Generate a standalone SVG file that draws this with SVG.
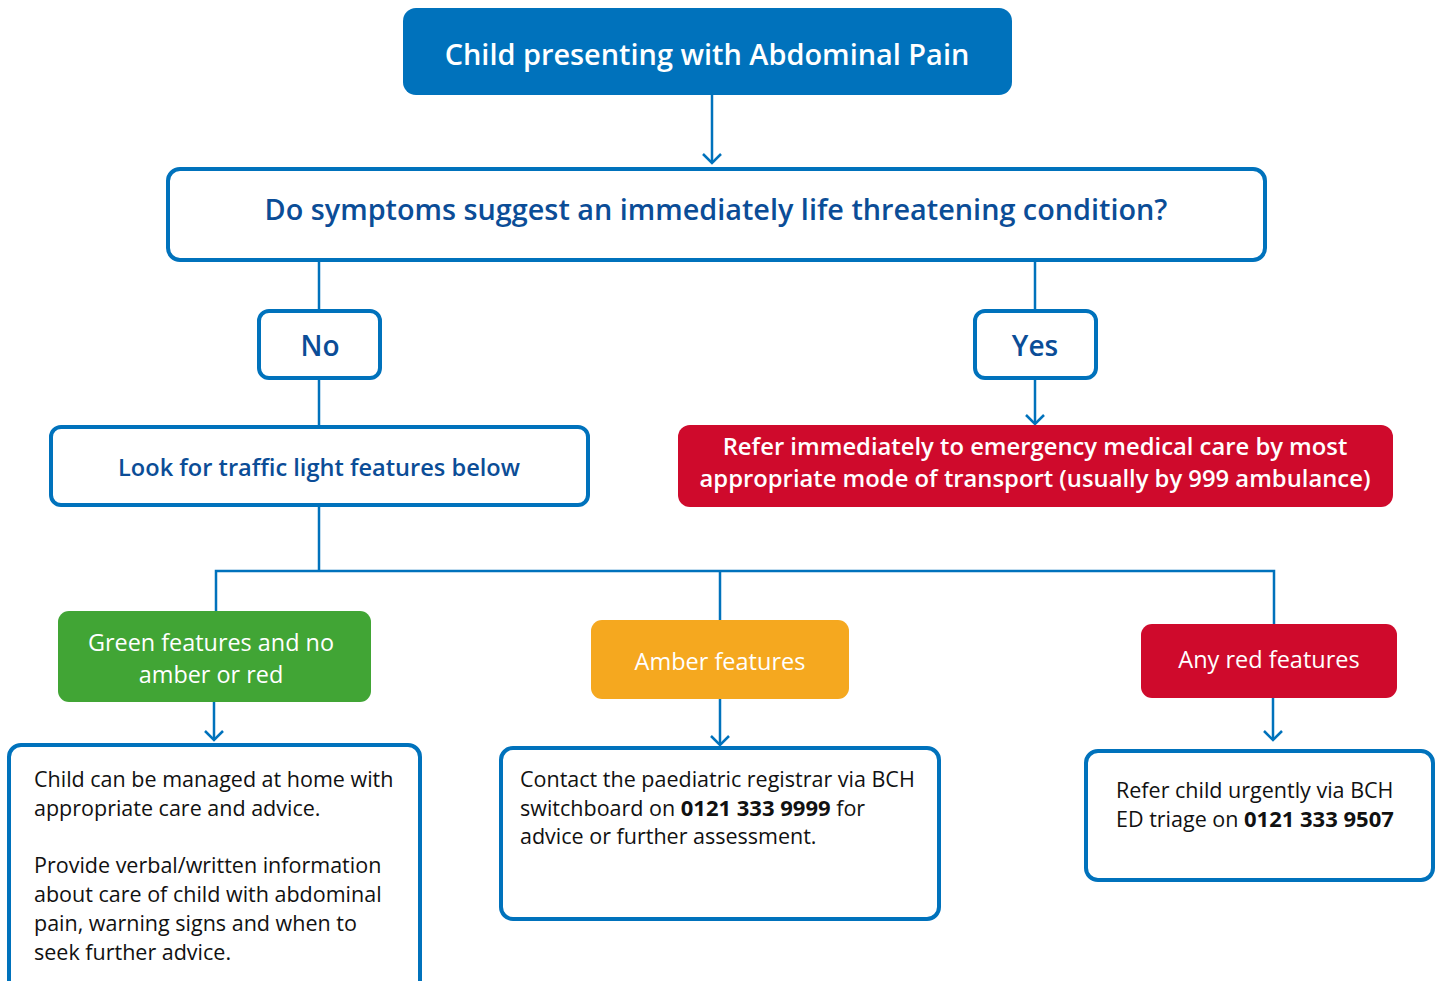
<svg xmlns="http://www.w3.org/2000/svg" width="1438" height="981" viewBox="0 0 1438 981">
<defs>
<style>
.con{fill:none;stroke:#0072BC;stroke-width:2.5}
.head{fill:none;stroke:#0072BC;stroke-width:2.5}
.ob{fill:#fff;stroke:#0072BC;stroke-width:4}
.t{font-family:"Open Sans","Noto Sans",sans-serif}
.hq{fill:#0B4D97;font-weight:600;text-anchor:middle}
.w{fill:#fff;text-anchor:middle}
.body{fill:#111;font-size:21.5px}
.num{font-weight:700;font-size:22px}
</style>
</defs>
<rect width="1438" height="981" fill="#fff"/>
<g id="connectors">
<line class="con" x1="712" y1="95" x2="712" y2="163"/>
<polyline class="head" points="703,154 712,163 721,154"/>
<line class="con" x1="319" y1="261" x2="319" y2="310"/>
<line class="con" x1="319" y1="379" x2="319" y2="427"/>
<line class="con" x1="1035" y1="261" x2="1035" y2="310"/>
<line class="con" x1="1035" y1="379" x2="1035" y2="424"/>
<polyline class="head" points="1026,415 1035,424 1044,415"/>
<polyline class="con" points="319,506 319,571"/>
<polyline class="con" points="216,611 216,571 1274,571 1274,624"/>
<line class="con" x1="720" y1="571" x2="720" y2="621"/>
<line class="con" x1="214" y1="702" x2="214" y2="740"/>
<polyline class="head" points="205,731 214,740 223,731"/>
<line class="con" x1="720" y1="699" x2="720" y2="745"/>
<polyline class="head" points="711,736 720,745 729,736"/>
<line class="con" x1="1273" y1="698" x2="1273" y2="740"/>
<polyline class="head" points="1264,731 1273,740 1282,731"/>
</g>
<g id="start">
<rect x="403" y="8" width="609" height="87" rx="13" fill="#0072BC"/>
<text class="t w" x="707" y="65" font-size="28.9" font-weight="600">Child presenting with Abdominal Pain</text>
</g>
<g id="question">
<rect class="ob" x="168" y="169" width="1097" height="91" rx="12"/>
<text class="t hq" x="716" y="220" font-size="28.8">Do symptoms suggest an immediately life threatening condition?</text>
</g>
<g id="no">
<rect class="ob" x="259" y="311" width="121" height="67" rx="10"/>
<text class="t hq" x="320" y="356" font-size="28">No</text>
</g>
<g id="yes">
<rect class="ob" x="975" y="311" width="121" height="67" rx="10"/>
<text class="t hq" x="1035" y="356" font-size="28">Yes</text>
</g>
<g id="look">
<rect class="ob" x="51" y="427" width="537" height="78" rx="10"/>
<text class="t hq" x="319" y="476" font-size="23.6">Look for traffic light features below</text>
</g>
<g id="emergency">
<rect x="678" y="425" width="715" height="82" rx="12" fill="#CF0A2C"/>
<text class="t w" x="1035" y="455" font-size="23.8" font-weight="600">Refer immediately to emergency medical care by most</text>
<text class="t w" x="1035" y="487" font-size="23.8" font-weight="600">appropriate mode of transport (usually by 999 ambulance)</text>
</g>
<g id="green">
<rect x="58" y="611" width="313" height="91" rx="11" fill="#41A535"/>
<text class="t w" x="211" y="651" font-size="23.4">Green features and no</text>
<text class="t w" x="211" y="683" font-size="23.4">amber or red</text>
</g>
<g id="amber">
<rect x="591" y="620" width="258" height="79" rx="11" fill="#F5A81F"/>
<text class="t w" x="720" y="670" font-size="23.5">Amber features</text>
</g>
<g id="red">
<rect x="1141" y="624" width="256" height="74" rx="11" fill="#CF0A2C"/>
<text class="t w" x="1269" y="668" font-size="23.5">Any red features</text>
</g>
<g id="green-action">
<rect class="ob" x="9" y="745" width="411" height="250" rx="12"/>
<text class="t body" x="34" y="787">Child can be managed at home with</text>
<text class="t body" x="34" y="816">appropriate care and advice.</text>
<text class="t body" x="34" y="873">Provide verbal/written information</text>
<text class="t body" x="34" y="902">about care of child with abdominal</text>
<text class="t body" x="34" y="931">pain, warning signs and when to</text>
<text class="t body" x="34" y="960">seek further advice.</text>
</g>
<g id="amber-action">
<rect class="ob" x="501" y="748" width="438" height="171" rx="12"/>
<text class="t body" x="520" y="787">Contact the paediatric registrar via BCH</text>
<text class="t body" x="520" y="816">switchboard on <tspan class="num">0121 333 9999</tspan> for</text>
<text class="t body" x="520" y="844">advice or further assessment.</text>
</g>
<g id="red-action">
<rect class="ob" x="1086" y="751" width="347" height="129" rx="12"/>
<text class="t body" x="1116" y="798">Refer child urgently via BCH</text>
<text class="t body" x="1116" y="827">ED triage on <tspan class="num">0121 333 9507</tspan></text>
</g>
</svg>
